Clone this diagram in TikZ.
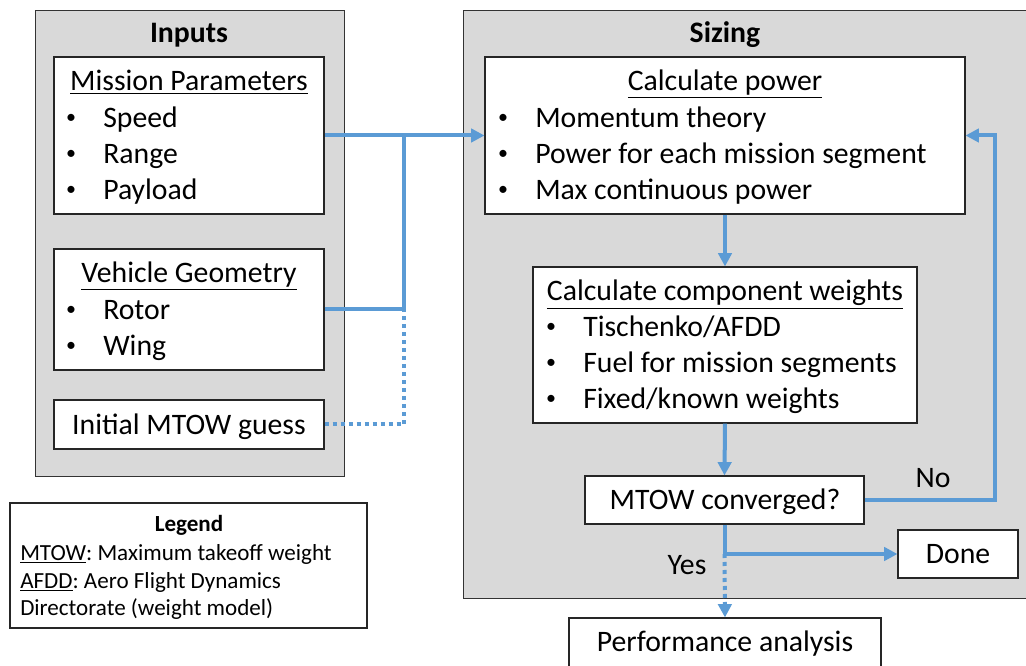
\documentclass[tikz,border=0pt]{standalone}
\usepackage{fontspec}
\setmainfont{Carlito}
\usetikzlibrary{arrows.meta,fit}
\definecolor{flowblue}{HTML}{5B9BD5}
\definecolor{panelgray}{HTML}{D9D9D9}
\frenchspacing
\begin{document}
\begin{tikzpicture}[x=0.75pt,y=-0.75pt,
  panel/.style={draw=black!80,fill=panelgray,line width=0.6pt,inner sep=0pt},
  box/.style={draw=black!85,fill=white,line width=0.8pt,inner sep=0pt},
  txt/.style={font=\fontsize{22.3}{26}\selectfont,inner sep=0pt,text height=0.9em,text depth=0em,yshift=-3pt},
  item/.style={txt,anchor=west},
  dot/.style={font=\fontsize{15}{18}\selectfont,inner sep=0pt,yshift=-1pt},
  small/.style={font=\fontsize{17.3}{20}\selectfont,inner sep=0pt,anchor=west,text height=0.9em,text depth=0em,yshift=-2pt},
  flow/.style={draw=flowblue,line width=3pt},
  dots/.style={dash pattern=on 3pt off 3pt},
  tip/.style={-{Triangle[length=10pt,width=10pt]}}]
\useasboundingbox (0,0) rectangle (1026,666);
% panels
\node[panel,fit={(35,10) (344,476)}] (inputs) {};
\node[panel,fit={(463,10) (1030,598)}] (sizing) {};
\node[txt,font=\fontsize{22.3}{26}\selectfont\bfseries] (inputstitle) at (189,33) {Inputs};
\node[txt,font=\fontsize{22.3}{26}\selectfont\bfseries] (sizingtitle) at (725,33) {Sizing};
% inputs
\node[box,fit={(54,57) (324,214)}] (mission) {};
\node[txt] (missiontitle) at (189,81) {\underline{Mission Parameters}};
\node[dot] (b1) at (71,118) {•}; \node[item] (speed) at (103,118) {Speed};
\node[dot] (b2) at (71,154) {•}; \node[item] (range) at (103,154) {Range};
\node[dot] (b3) at (71,190) {•}; \node[item] (payload) at (103,190) {Payload};
\node[box,fit={(54,249) (324,370)}] (geom) {};
\node[txt] (geomtitle) at (189,273) {\underline{Vehicle Geometry}};
\node[dot] (b4) at (71,310) {•}; \node[item] (rotor) at (103,310) {Rotor};
\node[dot] (b5) at (71,346) {•}; \node[item] (wing) at (103,346) {Wing};
\node[box,fit={(54,400) (324,449)}] (guess) {};
\node[txt] (guesstext) at (189,425) {Initial MTOW guess};
% sizing
\node[box,fit={(485,57) (965,214)}] (power) {};
\node[txt] (powertitle) at (725,81) {\underline{Calculate power}};
\node[dot] (b6) at (503,118) {•}; \node[item] (momentum) at (535,118) {Momentum theory};
\node[dot] (b7) at (503,154) {•}; \node[item] (segment) at (535,154) {Power for each mission segment};
\node[dot] (b8) at (503,190) {•}; \node[item] (maxpower) at (535,190) {Max continuous power};
\node[box,fit={(533,267) (917,423)}] (weights) {};
\node[txt] (weightstitle) at (725,291) {\underline{Calculate component weights}};
\node[dot] (b9) at (551,327) {•}; \node[item] (tisch) at (583,327) {Tischenko/AFDD};
\node[dot] (b10) at (551,363) {•}; \node[item] (fuel) at (583,363) {Fuel for mission segments};
\node[dot] (b11) at (551,399) {•}; \node[item] (fixed) at (583,399) {Fixed/known weights};
\node[box,fit={(585,476) (864,524)}] (conv) {};
\node[txt] (convtext) at (725,500) {MTOW converged?};
\node[box,fit={(898,530) (1018,578)}] (done) {};
\node[txt] (donetext) at (958,554) {Done};
\node[box,fit={(569,618) (881,668)}] (perf) {};
\node[txt] (perftext) at (725,642) {Performance analysis};
% legend
\node[draw=black!85,line width=0.8pt,inner sep=0pt,fit={(10,503) (367,628)}] (legend) {};
\node[small,anchor=center,font=\fontsize{17.3}{20}\selectfont\bfseries] (legendtitle) at (189,523) {Legend};
\node[small] (leg1) at (20,552) {\underline{MTOW}: Maximum takeoff weight};
\node[small] (leg2) at (20,580) {\underline{AFDD}: Aero Flight Dynamics};
\node[small] (leg3) at (20,607) {Directorate (weight model)};
% connectors
\coordinate (join) at (404,135.5);
\coordinate (loop) at (995,500);
\draw[flow,tip] (mission.east) -- (power.west);
\draw[flow] (geom.east) -| (join);
\draw[flow,dots] (guess.east) -| (geom.east -| join);
\draw[flow,tip] (power.south) -- (weights.north);
\draw[flow,tip] (weights.south) -- (conv.north);
\draw[flow,tip] (conv.east) -- (loop) |- (power.east);
\coordinate (split) at (conv.south |- done.west);
\draw[flow] (conv.south) -- (split);
\draw[flow,tip] (split) -- (done.west);
\draw[flow,dots,tip] (split) -- (perf.north);
\node[txt] (nolabel) at (933,478) {No};
\node[txt] (yeslabel) at (687,565) {Yes};
\end{tikzpicture}
\end{document}
